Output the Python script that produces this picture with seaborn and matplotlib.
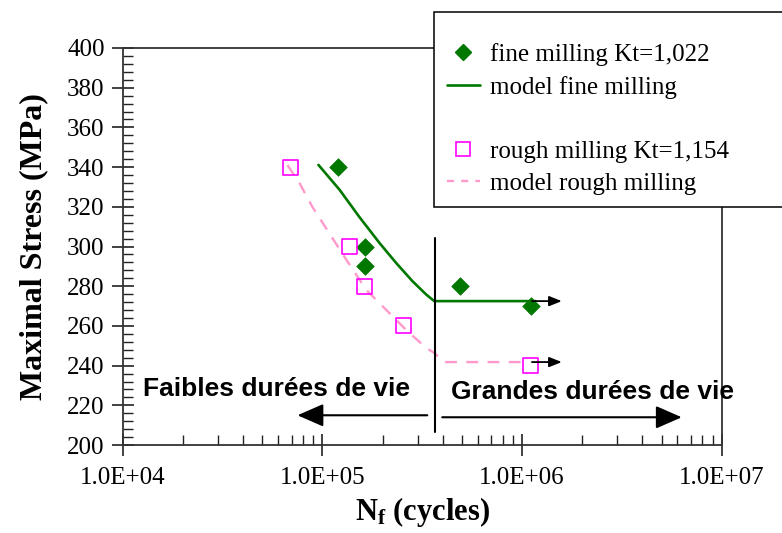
import numpy as np
import pandas as pd
import seaborn as sns
import matplotlib
matplotlib.use("Agg")
import matplotlib.pyplot as plt
from matplotlib.lines import Line2D
from matplotlib.ticker import FixedLocator, FuncFormatter, LogLocator, MultipleLocator

# Datos
fine_n = [1.2e5, 1.64e5, 1.64e5, 4.9e5, 1.11e6]
fine_s = [340, 300, 290, 280, 270]
rough_n = [6.9e4, 1.36e5, 1.62e5, 2.54e5, 1.1e6]
rough_s = [340, 300, 280, 260, 240]

model_fine_n = [9.55e4, 1.22e5, 1.53e5, 1.93e5, 2.34e5, 2.82e5, 3.31e5, 3.63e5, 1.17e6]
model_fine_s = [341.1, 328.5, 314.9, 301.8, 291.7, 282.6, 275.8, 272.5, 272.5]
model_rough_n = [6.68e4, 7.67e4, 8.91e4, 1.08e5, 1.32e5, 1.66e5, 2.09e5, 2.63e5,
                 3.31e5, 3.63e5, 4.07e5, 1.05e6]
model_rough_s = [341, 332, 319.9, 306.8, 293.2, 278.1, 268, 257.9, 248.9, 246.4,
                 241.8, 241.8]

labels = ["fine milling Kt=1,022", "model fine milling", " ",
          "rough milling Kt=1,154", "model rough milling"]
zone_labels = ["Faibles durées de vie", "Grandes durées de vie"]

green = "#007800"
magenta = "#ff00ff"
pink = "#ff99cc"

sns.set_style("ticks")
plt.rcParams["font.family"] = ["Liberation Serif", "DejaVu Serif"]
plt.rcParams["text.color"] = "black"
plt.rcParams["axes.labelcolor"] = "black"
plt.rcParams["xtick.color"] = "black"
plt.rcParams["ytick.color"] = "black"
plt.rcParams["mathtext.fontset"] = "custom"
plt.rcParams["mathtext.rm"] = "Liberation Serif:bold"
plt.rcParams["mathtext.it"] = "Liberation Serif:bold"
plt.rcParams["mathtext.bf"] = "Liberation Serif:bold"

fig, ax = plt.subplots(figsize=(7.82, 5.33), dpi=100)
fig.subplots_adjust(left=0.157, right=0.923, bottom=0.165, top=0.91)

#Modelos
sns.lineplot(x=model_fine_n, y=model_fine_s, sort=False, color=green, lw=1.9, ax=ax, zorder=3)
sns.lineplot(x=model_rough_n, y=model_rough_s, sort=False, color=pink, lw=1.7,
             linestyle=(0, (5, 4)), ax=ax, zorder=3)

#Puntos
sns.scatterplot(x=fine_n, y=fine_s, marker="D", s=80, color=green, edgecolor=green,
                linewidth=0.5, ax=ax, zorder=4)
sns.scatterplot(x=rough_n, y=rough_s, marker="s", s=115, facecolors="none",
                edgecolors=magenta, linewidth=1.2, ax=ax, zorder=4)

ax.set_xscale("log")
ax.set_xlim(1e4, 1e7)
ax.set_ylim(200, 400)

#Flechas cortas
for yv in [272.5, 241.8]:
    ax.annotate("", xy=(1.58e6, yv), xytext=(1.12e6, yv),
                arrowprops=dict(arrowstyle="-|>,head_length=0.5,head_width=0.2",
                                mutation_scale=15, lw=1.3, color="black",
                                shrinkA=0, shrinkB=0), zorder=5)

#Separacion
ax.plot([3.67e5, 3.67e5], [304.5, 206.5], color="black", lw=1.5, zorder=5)
big = dict(arrowstyle="-|>,head_length=0.8,head_width=0.35", mutation_scale=20,
           lw=1.5, color="black", shrinkA=0, shrinkB=0)
ax.annotate("", xy=(7.5e4, 215), xytext=(3.35e5, 215), arrowprops=big)
ax.annotate("", xy=(6.3e6, 214), xytext=(3.98e5, 214), arrowprops=big)
ax.text(1.26e4, 228, zone_labels[0], ha="left", va="center", fontsize=19,
        fontweight="bold", family="Liberation Sans")
ax.text(4.4e5, 226.7, zone_labels[1], ha="left", va="center", fontsize=19,
        fontweight="bold", family="Liberation Sans")

#Ejes
ax.xaxis.set_major_locator(FixedLocator([1e4, 1e5, 1e6, 1e7]))
ax.xaxis.set_minor_locator(LogLocator(base=10, subs=np.arange(2, 10)))
ax.xaxis.set_major_formatter(FuncFormatter(lambda v, p: f"{v:.1E}"))
ax.xaxis.set_minor_formatter(FuncFormatter(lambda v, p: ""))
ax.yaxis.set_major_locator(MultipleLocator(20))
ax.yaxis.set_minor_locator(MultipleLocator(4))
ax.tick_params(axis="both", which="major", direction="inout", length=16, width=1.2,
               labelsize=18, color="#222222", pad=5)
ax.tick_params(axis="x", which="major", pad=8)
ax.tick_params(axis="both", which="minor", direction="in", length=7, width=1.0,
               color="#222222")
for sp in ax.spines.values():
    sp.set_color("#333333")
    sp.set_linewidth(1.3)

ax.set_ylabel("Maximal Stress (MPa)", fontsize=23, fontweight="bold", labelpad=14)
ax.set_xlabel("N$_\\mathregular{f}$ (cycles)", fontsize=22, fontweight="bold", labelpad=4)

handles = [
    Line2D([], [], marker="D", ls="none", color=green, markersize=8),
    Line2D([], [], color=green, lw=1.9),
    Line2D([], [], ls="none"),
    Line2D([], [], marker="s", ls="none", markerfacecolor="none",
           markeredgecolor=magenta, markersize=10, markeredgewidth=1.2),
    Line2D([], [], color=pink, lw=1.7, ls=(0, (3, 3))),
]
leg = ax.legend(handles, labels, loc="upper left", bbox_to_anchor=(0.555, 0.977, 0.47, 0.0),
                bbox_transform=fig.transFigure, mode="expand", fontsize=18,
                frameon=True, fancybox=False, edgecolor="black", framealpha=1,
                borderpad=0.5, borderaxespad=0, labelspacing=0.38, handlelength=1.35,
                handletextpad=0.4, title=" ", title_fontsize=8)
leg.get_frame().set_linewidth(1.1)

fig.savefig("out.png", dpi=100)
